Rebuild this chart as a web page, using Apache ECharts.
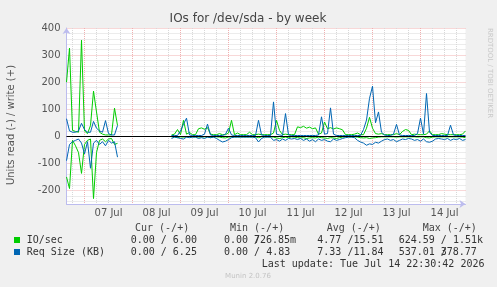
<!DOCTYPE html>
<html>
<head>
<meta charset="utf-8">
<title>IOs for /dev/sda - by week</title>
<script src="https://cdn.jsdelivr.net/npm/echarts@6/dist/echarts.min.js"></script>
<style>
  html, body { margin: 0; padding: 0; background: #f0f0f0; }
  #chart { width: 497px; height: 287px; }
</style>
</head>
<body>
<div id="chart"></div>
<script>
// time slots: 1.5 h steps from Jul 6 15:00 to Jul 14 22:30
const slotStart = Date.UTC(2026, 6, 6, 15, 0);
const slotCount = 134;
const slots = [];
for (let i = 0; i < slotCount; i++) {
    slots.push('t' + (slotStart + i * 90 * 60 * 1000));
}

// day labels (placed at noon)
const dayLabels = ['07 Jul', '08 Jul', '09 Jul', '10 Jul', '11 Jul', '12 Jul', '13 Jul', '14 Jul'];

// IO/sec write (+)
const ioWrite = [
    200, 326, 22, 18, 15, 355, 20, 10, 40, 167, 90, 15, 8, 5, 5, 5, 104, 40,
    null, null, null, null, null, null, null, null, null, null, null, null, null, null, null, null, null,
    5, 8, 25, 6, 59, 8, 14, 6, 6, 28,
    31, 26, 32, 8, 6, 6, 10, 6, 6, 12,
    59, 6, 12, 6, 6, 6, 15, 6, 6, 8,
    6, 6, 6, 6, 12, 59, 22, 6, 8, 6,
    6, 6, 35, 32, 37, 30, 34, 28, 31, 8,
    12, 53, 28, 32, 27, 31, 28, 24, 6, 6,
    6, 8, 12, 6, 6, 30, 70, 30, 10, 8,
    10, 6, 6, 6, 6, 10, 6, 18, 25, 22,
    6, 8, 6, 6, 6, 8, 20, 6, 6, 6,
    10, 8, 6, 6, 6, 6, 6, 8, 20
];

// IO/sec read (-)
const ioRead = [
    -150, -193, -15, -35, -60, -137, -30, -15, -10, -230, -60, -15, -10, -20, -10, -8, -30, -26,
    null, null, null, null, null, null, null, null, null, null, null, null, null, null, null, null, null,
    -2, -2, -5, -2, -3, -2, -2, -2, -2, -3,
    -2, -2, -2, -5, -2, -2, -3, -5, -6, -3,
    -2, -2, -2, -2, -2, -2, -2, -2, -2, -5,
    -2, -2, -2, -2, -3, -6, -8, -5, -3, -5,
    -2, -3, -5, -6, -5, -8, -6, -5, -6, -3,
    -5, -6, -8, -5, -6, -8, -5, -3, -2, -2,
    -2, -2, -3, -5, -6, -5, -8, -6, -5, -3,
    -2, -2, -2, -2, -2, -3, -2, -2, -2, -2,
    -2, -2, -3, -2, -2, -5, -6, -3, -2, -2,
    -2, -2, -2, -2, -2, -2, -2, -3, -5
];

// Req Size (KB) write (+)
const reqWrite = [
    65, 20, 15, 15, 20, 48, 25, 15, 15, 55, 30, 20, 15, 58, 10, 5, 5, 40,
    null, null, null, null, null, null, null, null, null, null, null, null, null, null, null, null, null,
    3, 3, 3, 20, 45, 67, 5, 3, 3, 3,
    3, 8, 45, 5, 3, 3, 3, 3, 8, 30,
    5, 3, 3, 3, 3, 3, 3, 3, 3, 59,
    5, 3, 3, 3, 127, 8, 5, 3, 84, 5,
    3, 3, 3, 3, 3, 3, 3, 3, 3, 5,
    72, 8, 10, 105, 8, 3, 3, 3, 3, 3,
    3, 3, 3, 3, 25, 60, 140, 185, 50, 90,
    15, 5, 3, 3, 8, 44, 5, 3, 3, 3,
    3, 3, 10, 67, 8, 158, 15, 3, 3, 3,
    3, 3, 3, 41, 5, 3, 3, 3, 3
];

// Req Size (KB) read (-)
const reqRead = [
    -90, -30, -20, -15, -10, -25, -65, -20, -118, -25, -15, -30, -20, -35, -15, -25, -20, -77,
    null, null, null, null, null, null, null, null, null, null, null, null, null, null, null, null, null,
    -8, -3, -5, -8, -10, -3, -5, -3, -3, -8,
    -5, -8, -3, -5, -3, -8, -15, -21, -18, -12,
    -5, -3, -3, -3, -3, -3, -3, -3, -5, -21,
    -8, -3, -3, -3, -15, -12, -18, -10, -15, -8,
    -10, -8, -12, -8, -15, -10, -18, -12, -20, -10,
    -15, -12, -18, -20, -10, -15, -12, -8, -5, -3,
    -3, -5, -15, -21, -25, -33, -28, -30, -22, -25,
    -18, -12, -10, -15, -12, -20, -15, -10, -12, -8,
    -10, -15, -12, -18, -10, -20, -22, -18, -10, -8,
    -10, -12, -8, -15, -10, -12, -8, -15, -12
];

// legend table
const legendRows = [
    { name: 'IO/sec', color: '#00cc00', cur: '0.00 / 6.00', min: ['0.00 /', '726.85m'], avg: '4.77 /15.51', max: ['624.59 / 1.51k', ''] },
    { name: 'Req Size (KB)', color: '#0066b3', cur: '0.00 / 6.25', min: ['0.00 / 4.83', ''], avg: '7.33 /11.84', max: ['537.01 /', '378.77'] }
];
const legendHeaders = ['Cur (-/+)', 'Min (-/+)', 'Avg (-/+)', 'Max (-/+)'];
const lastUpdate = 'Last update: Tue Jul 14 22:30:42 2026';

const GREEN = '#00cc00';
const BLUE = '#0066b3';
const MINOR = '#d8d8d8';
const MAJOR = '#f0b0b0';
const AXIS = '#bcbcee';
const DOT = [1, 1];
const Y_MIN = -250;
const Y_MAX = 400;
const mono = '10px "DejaVu Sans Mono"';

const chart = echarts.init(document.getElementById('chart'));

function lineSeries(name, data, color) {
    return {
        name: name,
        type: 'line',
        data: data,
        symbol: 'none',
        connectNulls: false,
        z: 3,
        lineStyle: { color: color, width: 1 },
        itemStyle: { color: color }
    };
}

// vertical grid slots: gray every 6 hours, red at midnight (slot 6 is Jul 7 00:00)
const vGrid = [];
slots.forEach((s, idx) => {
    if ((idx - 6) % 16 === 0) {
        vGrid.push([idx, 1]);
    } else if ((idx - 2) % 4 === 0) {
        vGrid.push([idx, 0]);
    }
});

// y grid: ticks every 10 from -250, colour cycle gives gray every 20, red every 100
const yColors = ['rgba(0,0,0,0)', MINOR, 'rgba(0,0,0,0)', MINOR, 'rgba(0,0,0,0)',
                 MAJOR, 'rgba(0,0,0,0)', MINOR, 'rgba(0,0,0,0)', MINOR];

const graphics = [];
graphics.push({
    type: 'text', x: 248, y: 19,
    style: { text: 'IOs for /dev/sda - by week', font: '12px "DejaVu Sans"', fill: '#444', align: 'center', verticalAlign: 'middle' }
});
graphics.push({
    type: 'text', x: 11, y: 125, rotation: Math.PI / 2,
    style: { text: 'Units read (-) / write (+)', font: '10px "DejaVu Sans"', fill: '#555', align: 'center', verticalAlign: 'middle' }
});
graphics.push({
    type: 'text', x: 490, y: 73, rotation: -Math.PI / 2,
    style: { text: 'RRDTOOL / TOBI OETIKER', font: '7px "DejaVu Sans"', fill: '#c8c8c8', align: 'center', verticalAlign: 'middle' }
});

// header row
const colX = [130.7, 224, 317.3, 398.7];
const headX = [135, 230, 326.7, 422.7];
legendHeaders.forEach((h, k) => {
    graphics.push({ type: 'text', x: headX[k], y: 228, style: { text: h, font: mono, fill: '#444', verticalAlign: 'middle' } });
});

legendRows.forEach((row, r) => {
    const y = 240 + r * 12;
    graphics.push({ type: 'rect', shape: { x: 14, y: y - 3, width: 6, height: 6 }, style: { fill: row.color } });
    graphics.push({ type: 'text', x: 26.7, y: y, style: { text: row.name, font: mono, fill: '#333', verticalAlign: 'middle' } });
    graphics.push({ type: 'text', x: colX[0], y: y, style: { text: row.cur, font: mono, fill: '#333', verticalAlign: 'middle' } });
    graphics.push({ type: 'text', x: colX[1], y: y, style: { text: row.min[0], font: mono, fill: '#333', verticalAlign: 'middle' } });
    graphics.push({ type: 'text', x: colX[1] + 30, y: y, style: { text: row.min[1], font: mono, fill: '#333', verticalAlign: 'middle' } });
    graphics.push({ type: 'text', x: colX[2], y: y, style: { text: row.avg, font: mono, fill: '#333', verticalAlign: 'middle' } });
    graphics.push({ type: 'text', x: colX[3], y: y, style: { text: row.max[0], font: mono, fill: '#333', verticalAlign: 'middle' } });
    graphics.push({ type: 'text', x: colX[3] + 42, y: y, style: { text: row.max[1], font: mono, fill: '#333', verticalAlign: 'middle' } });
});

graphics.push({ type: 'text', x: 261.7, y: 264, style: { text: lastUpdate, font: mono, fill: '#333', verticalAlign: 'middle' } });
graphics.push({ type: 'text', x: 248, y: 276, style: { text: 'Munin 2.0.76', font: '7px "DejaVu Sans"', fill: '#c4c4c4', align: 'center', verticalAlign: 'middle' } });

// vertical dotted grid drawn through the axes
const gridLineSeries = {
    type: 'custom',
    data: vGrid,
    z: 1,
    silent: true,
    clip: false,
    encode: { x: 0, y: -1 },
    renderItem: function (params, api) {
        const x = api.value(0);
        const top = api.coord([x, Y_MAX]);
        const bottom = api.coord([x, Y_MIN]);
        return {
            type: 'line',
            shape: { x1: top[0], y1: top[1], x2: bottom[0], y2: bottom[1] },
            style: { stroke: api.value(1) ? MAJOR : MINOR, lineWidth: 1, lineDash: DOT }
        };
    }
};

const zeroSeries = lineSeries('Req Size write', reqWrite, BLUE);
zeroSeries.markLine = {
    silent: true,
    symbol: ['none', 'none'],
    label: { show: false },
    lineStyle: { color: '#000000', width: 1, type: 'solid' },
    data: [{ yAxis: 0 }]
};

const option = {
    animation: false,
    backgroundColor: '#f0f0f0',
    grid: {
        // 133 slot gaps of 3 px, offset half a pixel so vertical lines land on whole pixels
        left: 66.5, right: 31.5, top: 28, bottom: 83,
        show: true, backgroundColor: '#ffffff', borderWidth: 0
    },
    xAxis: {
        type: 'category',
        data: slots,
        boundaryGap: false,
        axisLine: {
            show: true, onZero: false,
            lineStyle: { color: AXIS, width: 1 },
            symbol: ['none', 'arrow'], symbolSize: [6, 6]
        },
        axisTick: { show: false },
        axisLabel: {
            show: true,
            interval: (idx) => (idx - 14) % 16 === 0,
            formatter: (val, idx) => dayLabels[Math.round((idx - 14) / 16)] || '',
            color: '#555',
            fontFamily: 'DejaVu Sans',
            fontSize: 10,
            margin: 4
        },
        splitLine: { show: false }
    },
    yAxis: {
        type: 'value',
        min: Y_MIN,
        max: Y_MAX,
        interval: 10,
        axisLine: {
            show: true,
            lineStyle: { color: AXIS, width: 1 },
            symbol: ['none', 'arrow'], symbolSize: [6, 6]
        },
        axisTick: { show: false },
        axisLabel: {
            formatter: (v) => (v % 100 === 0 ? String(v) : ''),
            color: '#555',
            fontFamily: 'DejaVu Sans',
            fontSize: 10,
            margin: 6
        },
        splitLine: {
            show: true,
            lineStyle: { color: yColors, width: 1, type: DOT }
        }
    },
    series: [
        gridLineSeries,
        lineSeries('IO/sec read', ioRead, GREEN),
        lineSeries('IO/sec write', ioWrite, GREEN),
        lineSeries('Req Size read', reqRead, BLUE),
        zeroSeries
    ],
    graphic: graphics
};

chart.setOption(option);
</script>
</body>
</html>
